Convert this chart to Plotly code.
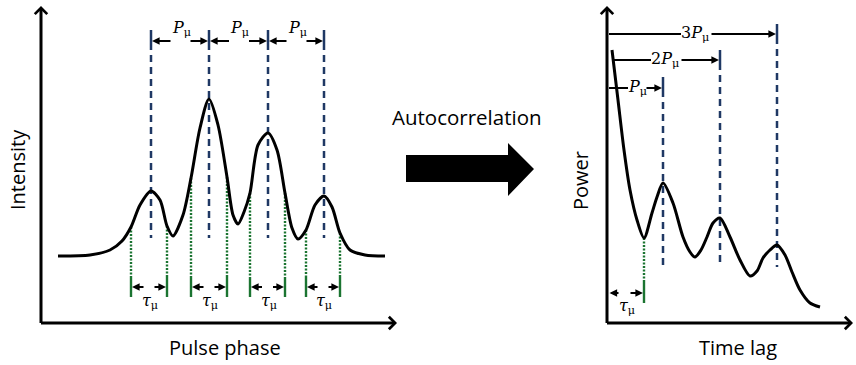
import numpy as np
import plotly.graph_objects as go

W, H = 856, 365

# ---- Pulse profile (left panel), arbitrary units ----
phase = [17, 49, 69, 81, 90, 99, 110, 119, 126, 132, 142, 150, 159, 168, 177, 186, 192,
         197, 203, 209, 217, 227, 236, 244, 251, 257, 265, 274, 283, 291, 299, 309, 324, 344]
intensity = [67, 68, 73, 82, 96, 118, 132, 123, 97, 87, 108, 145, 195, 224, 198, 146, 108,
             99, 111, 130, 178, 190, 173, 130, 95, 84, 93, 118, 127, 116, 90, 73, 68, 67]

# sub-pulse centres (period P_mu) and widths (tau_mu)
subpulse_centres = [110, 168, 227, 283]
tau_edges = [(90, 126), (150, 186), (209, 244), (265, 299)]

# ---- Autocorrelation (right panel), arbitrary units ----
lag = [5, 11, 17, 23, 30, 37, 45, 50, 56, 66, 76, 83, 88, 94, 100, 106, 113, 123, 133,
       143, 150, 156, 163, 170, 178, 185, 193, 203, 213]
power = [273, 223, 173, 133, 103, 85, 110, 126, 140, 120, 86, 71, 66, 73, 86, 100, 105,
         86, 63, 47, 52, 65, 73, 78, 68, 51, 33, 20, 16]
acf_peaks = [56, 113, 170]
acf_peak_tops = [246, 273, 299]
acf_tau = 37

NAVY = "#1f3864"
GREEN = "#1b7431"
SANS = "Open Sans"
SERIF = "DejaVu Serif"

fig = go.Figure()


def vsegs(xs, y0s, y1s):
    X, Y = [], []
    for x, a, b in zip(xs, y0s, y1s):
        X += [x, x, None]
        Y += [a, b, None]
    return X, Y


def lines(xs, ys, color, width, dash, xa, ya):
    fig.add_trace(go.Scatter(x=xs, y=ys, mode="lines", xaxis=xa, yaxis=ya,
                             line=dict(color=color, width=width, dash=dash),
                             hoverinfo="skip", showlegend=False))


def arrow(xr, yr, x0, y0, x1, y1, width=1.8, size=0.85, head=2, side="end"):
    fig.add_annotation(x=x1, y=y1, ax=x0, ay=y0, xref=xr, yref=yr, axref=xr, ayref=yr,
                       text="", showarrow=True, arrowhead=head, arrowsize=size,
                       arrowwidth=width, arrowcolor="black", standoff=0, startstandoff=0,
                       arrowside=side, startarrowhead=head, startarrowsize=size)


def label(xr, yr, x, y, text, size=16, family=SERIF, angle=0):
    fig.add_annotation(x=x, y=y, xref=xr, yref=yr, text=text, showarrow=False,
                       textangle=angle, xanchor="center", yanchor="middle",
                       font=dict(family=family, size=size, color="black"))


P_TXT = "<i>P</i><sub>μ</sub>"
T_TXT = "<i>τ</i><sub>μ</sub>"

# ---------------- left panel ----------------
# period markers
X, Y = vsegs(subpulse_centres, [293] * 4, [280] * 4)
lines(X, Y, NAVY, 2.5, "solid", "x", "y")
X, Y = vsegs(subpulse_centres, [280] * 4, [85] * 4)
lines(X, Y, NAVY, 2.5, "7px,5px", "x", "y")

# width markers
edges = [e for pair in tau_edges for e in pair]
tops = np.interp(edges, phase, intensity)
X, Y = vsegs(edges, tops, [46] * len(edges))
lines(X, Y, GREEN, 2.4, "2px,1.5px", "x", "y")
X, Y = vsegs(edges, [46] * len(edges), [26] * len(edges))
lines(X, Y, GREEN, 2.4, "solid", "x", "y")

# pulse profile
fig.add_trace(go.Scatter(x=phase, y=intensity, mode="lines",
                         line=dict(color="black", width=3, shape="spline", smoothing=0.8),
                         xaxis="x", yaxis="y", hoverinfo="skip", showlegend=False))

for a, b in zip(subpulse_centres[:-1], subpulse_centres[1:]):
    c = (a + b) / 2
    arrow("x", "y", c - 8, 282, a + 1, 282)
    arrow("x", "y", c + 9, 282, b - 1, 282)
    label("x", "y", c + 1, 295, P_TXT)

for a, b in tau_edges:
    c = (a + b) / 2
    arrow("x", "y", c - 4, 36, a + 1, 36)
    arrow("x", "y", c + 4, 36, b - 1, 36)
    label("x", "y", c + 1, 22, T_TXT)

# axes
arrow("x", "y", 0, -1.5, 0, 317, width=3, size=0.8, head=4)
arrow("x", "y", -1.5, 0, 356, 0, width=3, size=0.8, head=4)

# ---------------- right panel ----------------
X, Y = vsegs(acf_peaks, acf_peak_tops, [t - 13 for t in acf_peak_tops])
lines(X, Y, NAVY, 2.5, "solid", "x2", "y2")
X, Y = vsegs(acf_peaks, [t - 13 for t in acf_peak_tops], [56] * 3)
lines(X, Y, NAVY, 2.5, "7px,5px", "x2", "y2")

tau_top = float(np.interp(acf_tau, lag, power))
lines([acf_tau, acf_tau], [tau_top, 43], GREEN, 2.4, "2px,1.5px", "x2", "y2")
lines([acf_tau, acf_tau], [43, 20], GREEN, 2.4, "solid", "x2", "y2")

fig.add_trace(go.Scatter(x=lag, y=power, mode="lines",
                         line=dict(color="black", width=3, shape="spline", smoothing=0.8),
                         xaxis="x2", yaxis="y2", hoverinfo="skip", showlegend=False))

# multiples of the period
multiples = [("3" + P_TXT, 2, 74, 88, 103, acf_peaks[2], 289),
             ("2" + P_TXT, 5, 44, 58, 73, acf_peaks[1], 263),
             (P_TXT, 2, 21, 30, 38, acf_peaks[0], 235)]
for txt, l0, l1, lx, a0, a1, yy in multiples:
    lines([l0, l1], [yy, yy], "black", 2, "solid", "x2", "y2")
    label("x2", "y2", lx, yy + 1, txt)
    arrow("x2", "y2", a0, yy, a1 - 1, yy)

arrow("x2", "y2", 13, 30, 2.5, 30)
arrow("x2", "y2", 22, 30, acf_tau - 1, 30)
label("x2", "y2", 20, 17, T_TXT)

arrow("x2", "y2", 0, -1.5, 0, 317, width=3, size=0.8, head=4)
arrow("x2", "y2", -1.5, 0, 246, 0, width=3, size=0.8, head=4)

# ---------------- titles ----------------
label("paper", "paper", 17 / W, 1 - 170 / H, "Intensity", size=20, family=SANS, angle=-90)
label("paper", "paper", 225 / W, 1 - 347 / H, "Pulse phase", size=20, family=SANS)
label("paper", "paper", 580 / W, 1 - 181 / H, "Power", size=20, family=SANS, angle=-90)
label("paper", "paper", 738 / W, 1 - 347 / H, "Time lag", size=20, family=SANS)
label("paper", "paper", 467 / W, 1 - 117 / H, "Autocorrelation", size=20.5, family=SANS)

# block arrow between the panels
pts = [(406, 155), (508, 155), (508, 143), (534, 169), (508, 196), (508, 182), (406, 182)]
path = "M " + " L ".join(f"{x / W:.5f},{1 - y / H:.5f}" for x, y in pts) + " Z"
fig.add_shape(type="path", path=path, xref="paper", yref="paper",
              fillcolor="black", line=dict(color="black", width=0))

hidden = dict(visible=False, showgrid=False, zeroline=False, fixedrange=True)
fig.update_layout(
    width=W, height=H, margin=dict(l=0, r=0, t=0, b=0),
    paper_bgcolor="white", plot_bgcolor="rgba(0,0,0,0)",
    xaxis=dict(domain=[41 / W, 401 / W], range=[0, 360], anchor="y", **hidden),
    yaxis=dict(domain=[42 / H, 360 / H], range=[0, 318], anchor="x", **hidden),
    xaxis2=dict(domain=[607 / W, 1], range=[0, 249], anchor="y2", **hidden),
    yaxis2=dict(domain=[42 / H, 360 / H], range=[0, 318], anchor="x2", **hidden),
)

fig.write_html("out.html")
